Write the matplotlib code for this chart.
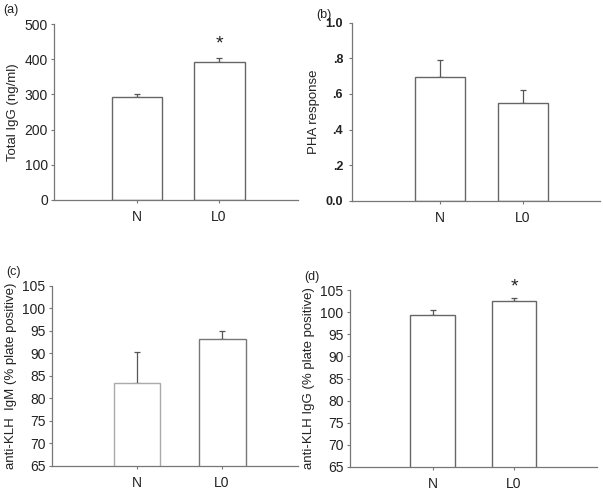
import matplotlib
matplotlib.use('Agg')
import matplotlib.pyplot as plt

plt.rcParams['font.family'] = ['Liberation Sans', 'DejaVu Sans']

groups = ['N', 'L0']

igg_mean = [292, 393]
igg_err = [8, 9]

pha_mean = [0.695, 0.55]
pha_err = [0.095, 0.07]

klh_igm_mean = [83.5, 93.2]
klh_igm_err = [6.8, 1.8]

klh_igg_mean = [99.3, 102.5]
klh_igg_err = [1.1, 0.8]

panels = [
    dict(tag='(a)', mean=igg_mean, err=igg_err, ylabel='Total IgG (ng/ml)',
         ylim=(0, 500), yticks=[0, 100, 200, 300, 400, 500],
         yticklabels=['0', '100', '200', '300', '400', '500'], bold=False,
         rect=[0.0896, 0.592, 0.4044, 0.359], xlim=(-1.01, 1.96), width=0.62,
         star=443, edges=['#666666', '#666666'], tagpos=(0.005, 0.992)),
    dict(tag='(b)', mean=pha_mean, err=pha_err, ylabel='PHA response',
         ylim=(0, 1.0), yticks=[0, 0.2, 0.4, 0.6, 0.8, 1.0],
         yticklabels=['0.0', '.2', '.4', '.6', '.8', '1.0'], bold=True,
         rect=[0.584, 0.590, 0.411, 0.364], xlim=(-1.06, 1.93), width=0.6,
         star=None, edges=['#666666', '#666666'], tagpos=(0.525, 0.982)),
    dict(tag='(c)', mean=klh_igm_mean, err=klh_igm_err,
         ylabel='anti-KLH  IgM (% plate positive)',
         ylim=(65, 105), yticks=list(range(65, 106, 5)),
         yticklabels=[str(v) for v in range(65, 106, 5)], bold=False,
         rect=[0.086, 0.049, 0.408, 0.368], xlim=(-1.0, 1.89), width=0.55,
         star=None, edges=['#aaaaaa', '#777777'], tagpos=(0.010, 0.458)),
    dict(tag='(d)', mean=klh_igg_mean, err=klh_igg_err,
         ylabel='anti-KLH IgG (% plate positive)',
         ylim=(65, 105), yticks=list(range(65, 106, 5)),
         yticklabels=[str(v) for v in range(65, 106, 5)], bold=False,
         rect=[0.580, 0.047, 0.410, 0.361], xlim=(-1.02, 2.02), width=0.55,
         star=105.7, edges=['#666666', '#666666'], tagpos=(0.505, 0.446)),
]

fig = plt.figure(figsize=(6.03, 4.9), dpi=100)

for p in panels:
    ax = fig.add_axes(p['rect'])
    x = list(range(len(groups)))
    ax.bar(x, p['mean'], width=p['width'], color='white',
           edgecolor=p['edges'], linewidth=1.0, zorder=2)
    ax.errorbar(x, p['mean'], yerr=[[0] * len(x), p['err']], fmt='none',
                ecolor='#555555', elinewidth=0.9, capsize=2.5, capthick=0.9, zorder=1)
    if p['star'] is not None:
        ax.text(1, p['star'], '*', ha='center', va='center', fontsize=14,
                color='#222222')
    ax.set_xlim(*p['xlim'])
    ax.set_ylim(*p['ylim'])
    ax.set_xticks(x)
    ax.set_xticklabels(groups, fontsize=10, color='#222222')
    ax.set_yticks(p['yticks'])
    ax.set_yticklabels(p['yticklabels'], fontsize=10 if not p['bold'] else 9,
                       color='#222222',
                       fontweight='bold' if p['bold'] else 'normal')
    ax.set_ylabel(p['ylabel'], fontsize=9.5, color='#222222', labelpad=4)
    for s in ['top', 'right']:
        ax.spines[s].set_visible(False)
    for s in ['left', 'bottom']:
        ax.spines[s].set_color('#777777')
        ax.spines[s].set_linewidth(0.9)
    ax.tick_params(axis='both', colors='#777777', length=2.5, width=0.8,
                   labelcolor='#222222', pad=2)
    ax.tick_params(axis='y', pad=2 if not p['bold'] else 4)
    ax.tick_params(axis='x', pad=4.5)
    fig.text(p['tagpos'][0], p['tagpos'][1], p['tag'], fontsize=9,
             color='#222222', va='top', ha='left')

fig.savefig('out.png', dpi=100)
